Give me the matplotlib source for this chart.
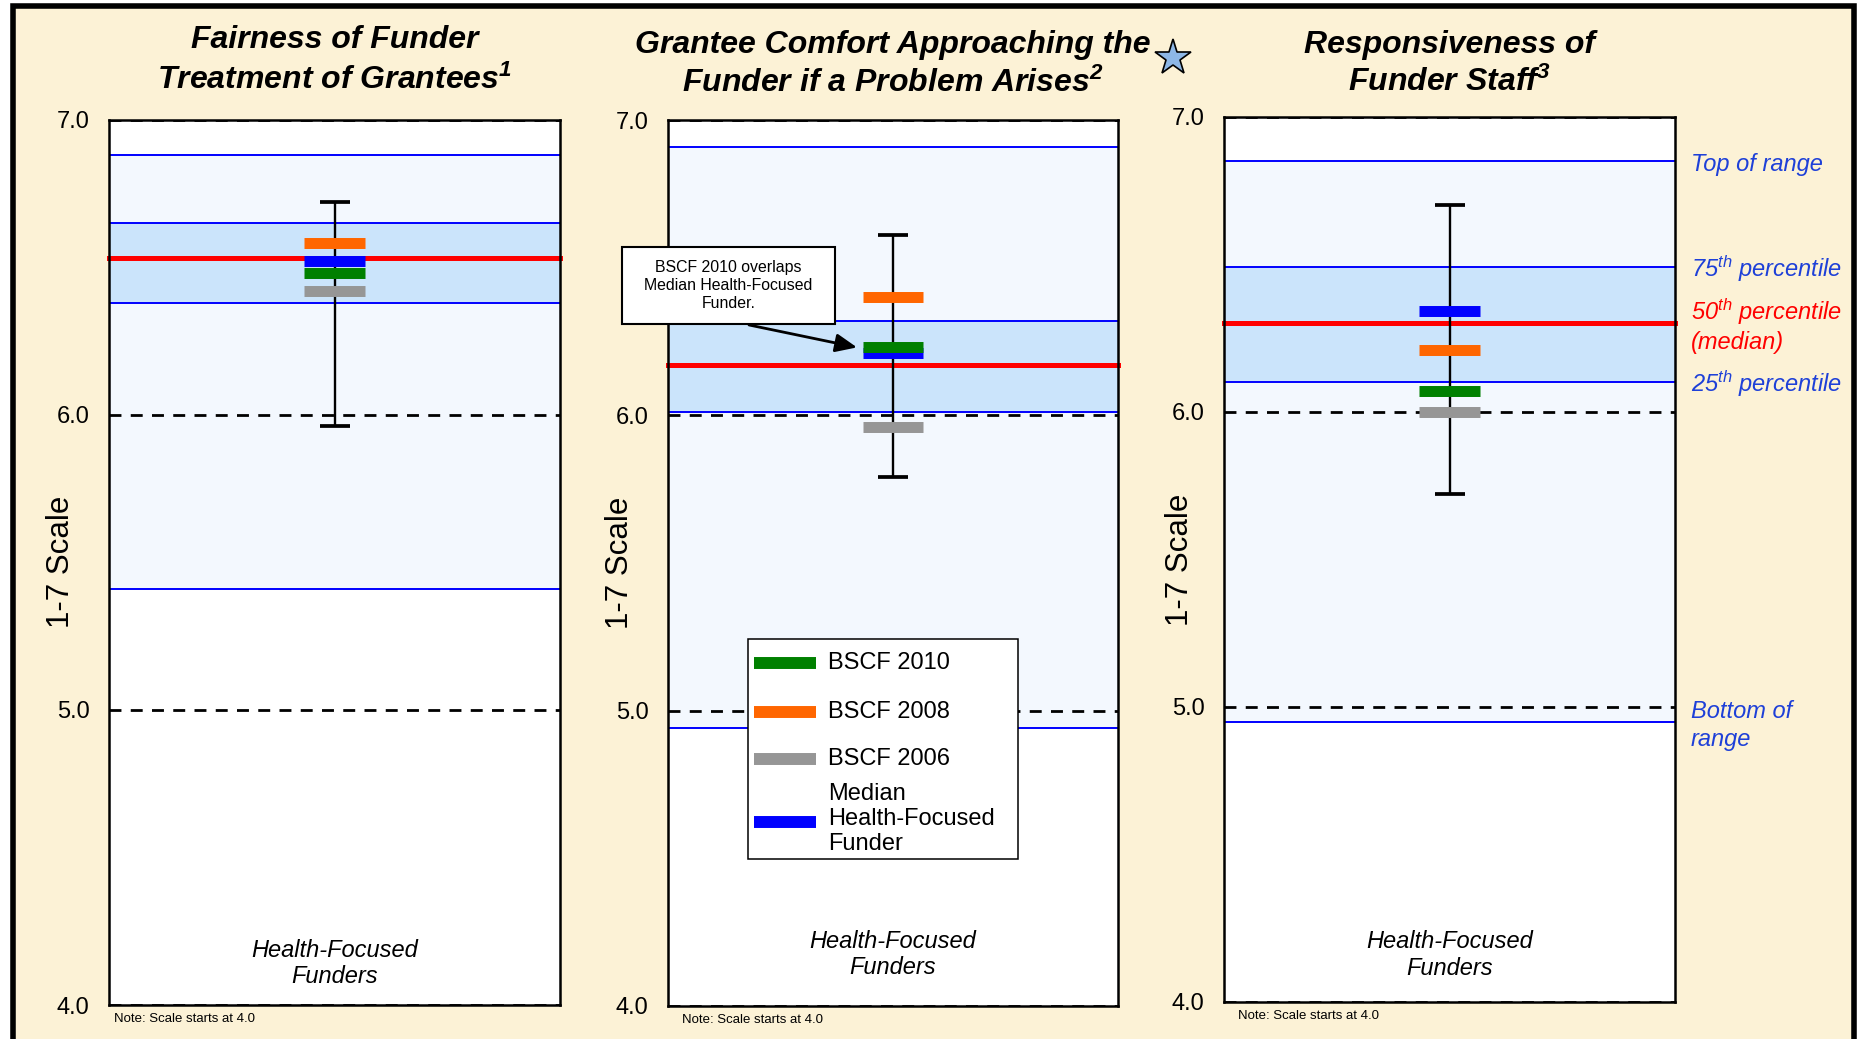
import matplotlib
matplotlib.use("Agg")
import matplotlib.pyplot as plt
import matplotlib.transforms as mtransforms
from matplotlib.lines import Line2D
from matplotlib.patches import Rectangle

plt.rcParams["font.family"] = ["Liberation Sans", "DejaVu Sans"]
plt.rcParams["mathtext.fontset"] = "custom"
plt.rcParams["mathtext.rm"] = "Liberation Sans"
plt.rcParams["mathtext.it"] = "Liberation Sans:italic"
plt.rcParams["mathtext.bf"] = "Liberation Sans:italic:bold"

# ---------------- data ----------------
title_line1 = ["Fairness of Funder", "Grantee Comfort Approaching the", "Responsiveness of"]
title_line2 = [r"Treatment of Grantees$^{\mathbf{1}}$",
               r"Funder if a Problem Arises$^{\mathbf{2}}$",
               r"Funder Staff$^{\mathbf{3}}$"]

y_ticks = [4.0, 5.0, 6.0, 7.0]
y_tick_labels = ["4.0", "5.0", "6.0", "7.0"]

# health-focused funder distribution per question
top_of_range = [6.88, 6.91, 6.85]
pct_75 = [6.65, 6.32, 6.49]
pct_50 = [6.53, 6.17, 6.30]
pct_25 = [6.38, 6.01, 6.10]
bottom_of_range = [5.41, 4.94, 4.95]

# whisker range shown around the markers
whisker_high = [6.72, 6.61, 6.70]
whisker_low = [5.96, 5.79, 5.72]

# ratings
bscf_2010 = [6.48, 6.23, 6.07]
bscf_2008 = [6.58, 6.40, 6.21]
bscf_2006 = [6.42, 5.96, 6.00]
median_hf = [6.52, 6.21, 6.34]

series_labels = ["BSCF 2010", "BSCF 2008", "BSCF 2006", "Median\nHealth-Focused\nFunder"]

# ---------------- style ----------------
CREAM = "#FCF2D6"
BAND_LIGHT = "#F3F8FE"
BAND_MID = "#CBE4FB"
LINE_BLUE = "#0000FF"
TEXT_BLUE = "#1E40D8"
RED = "#FF0000"
C2010 = "#008000"
C2008 = "#FF6600"
C2006 = "#969696"
CMED = "#0000FF"
series_colors = [C2010, C2008, C2006, CMED]
NARROW = ["Liberation Sans Narrow", "Liberation Sans", "DejaVu Sans"]

W, H = 1860, 1039
fig = plt.figure(figsize=(W / 100, H / 100), dpi=100, facecolor="white")

# slide frame
fig.add_artist(Rectangle((12.5 / W, -0.02), 1841 / W, 1.02 - 5.5 / H,
                         transform=fig.transFigure, facecolor=CREAM,
                         edgecolor="black", lw=4, zorder=-10))

# axes boxes in pixels: left, top, right, bottom
boxes = [(109, 119.5, 560, 1005), (668, 120, 1118, 1006), (1224, 116.7, 1675, 1002)]
title_baselines = [(48.3, 89.3), (53.3, 91.7), (52.7, 91.0)]
ylabel_x = [-0.106, -0.106, -0.098]
hf_text_y = [0.047, 0.058, 0.053]
note_x = [0.011, 0.031, 0.031]

half_w = 0.0675
axes = []
for i, (l, t, r, b) in enumerate(boxes):
    ax = fig.add_axes([l / W, 1 - b / H, (r - l) / W, (b - t) / H])
    axes.append(ax)
    ax.set_xlim(0, 1)
    ax.set_ylim(4, 7)
    ax.set_facecolor("white")

    ax.axhspan(bottom_of_range[i], top_of_range[i], color=BAND_LIGHT, lw=0, zorder=0.5)
    ax.axhspan(pct_25[i], pct_75[i], color=BAND_MID, lw=0, zorder=0.6)
    for arr in (top_of_range, pct_75, pct_25, bottom_of_range):
        ax.axhline(arr[i], color=LINE_BLUE, lw=1.4, zorder=1)
    for yt in y_ticks:
        ax.axhline(yt, color="black", lw=2, ls=(0, (4.3, 3.35)), zorder=1.5)
    ax.axhline(pct_50[i], color=RED, lw=3.6, zorder=2, clip_on=False,
               solid_capstyle="projecting")

    mid = (whisker_low[i] + whisker_high[i]) / 2
    ax.errorbar([0.5], [mid], yerr=[[mid - whisker_low[i]], [whisker_high[i] - mid]],
                fmt="none", ecolor="black", elinewidth=1.7, capsize=10.5,
                capthick=2.7, zorder=3)

    for vals, col in ((median_hf, CMED), (bscf_2006, C2006),
                      (bscf_2008, C2008), (bscf_2010, C2010)):
        ax.hlines(vals[i], 0.5 - half_w, 0.5 + half_w, colors=col, lw=7.9, zorder=4)

    ax.set_xticks([])
    ax.set_yticks(y_ticks)
    ax.set_yticklabels(y_tick_labels, fontsize=17)
    ax.tick_params(axis="y", length=0, pad=14)
    for s in ax.spines.values():
        s.set_linewidth(1.8)
        s.set_color("black")
        s.set_zorder(5)

    ax.text(ylabel_x[i], 0.5, "1-7 Scale", rotation=90, transform=ax.transAxes,
            ha="center", va="center", fontsize=22.5)
    ax.text(0.5, hf_text_y[i], "Health-Focused\nFunders", transform=ax.transAxes,
            ha="center", va="center", fontsize=17, style="italic", zorder=6)
    ax.text(note_x[i], -0.016, "Note: Scale starts at 4.0", transform=ax.transAxes,
            ha="left", va="center", fontsize=9.5, family=NARROW)

    trans = mtransforms.blended_transform_factory(ax.transAxes, fig.transFigure)
    ax.text(0.5, 1 - title_baselines[i][0] / H, title_line1[i], transform=trans,
            ha="center", va="baseline", fontsize=23, fontweight="bold", style="italic")
    ax.text(0.5, 1 - title_baselines[i][1] / H, title_line2[i], transform=trans,
            ha="center", va="baseline", fontsize=23, fontweight="bold", style="italic")

# key box in the middle panel (axes coordinates)
ax2 = axes[1]
ax2.add_patch(Rectangle((0.1778, 0.1659), 0.6, 0.2483, transform=ax2.transAxes,
                        facecolor="white", edgecolor="black", lw=1.1,
                        clip_on=False, zorder=8))
key_rows = [0.3871, 0.3318, 0.2788, 0.2077]
key_text_shift = [0.0, 0.0, 0.0, 0.0034]
for lab, col, yk, dy in zip(series_labels, series_colors, key_rows, key_text_shift):
    ax2.add_line(Line2D([0.1911, 0.3289], [yk, yk], transform=ax2.transAxes,
                        color=col, lw=8.6, solid_capstyle="butt",
                        clip_on=False, zorder=9))
    ax2.text(0.3556, yk + dy, lab, transform=ax2.transAxes, ha="left",
             va="center", fontsize=17, zorder=9)

# callout in the middle panel
ax2.add_patch(Rectangle((-0.102, 6.309), 0.472, 0.262, facecolor="white",
                        edgecolor="black", lw=1.5, clip_on=False, zorder=7))
ax2.text(0.134, 6.44, "BSCF 2010 overlaps\nMedian Health-Focused\nFunder.",
         ha="center", va="center", fontsize=11.4, family=NARROW,
         linespacing=1.25, zorder=8)
ax2.annotate("", xy=(0.42, bscf_2010[1]), xytext=(0.18, 6.306),
             arrowprops=dict(arrowstyle="-|>,head_length=0.65,head_width=0.28",
                             color="black", lw=2, shrinkA=0, shrinkB=0,
                             mutation_scale=20),
             annotation_clip=False, zorder=8)

# star next to the middle title
fig.add_artist(Line2D([1172.5 / W], [1 - 57.5 / H], marker="*", markersize=27,
                      markerfacecolor="#8DB7E6", markeredgecolor="black",
                      markeredgewidth=1.2, transform=fig.transFigure))

# percentile key on the right panel
ax3 = axes[2]


def key_transform(dy_px):
    return ax3.get_yaxis_transform() + mtransforms.ScaledTranslation(
        0, dy_px / 100, fig.dpi_scale_trans)


key_x = 1.035
key_kw = dict(style="italic", fontsize=17, va="center", ha="left", linespacing=1.25)
ax3.text(key_x, top_of_range[2], "Top of range", color=TEXT_BLUE,
         transform=key_transform(-4), **key_kw)
ax3.text(key_x, pct_75[2], r"75$^{\mathit{th}}$ percentile", color=TEXT_BLUE,
         transform=key_transform(-1.5), **key_kw)
ax3.text(key_x, pct_50[2], "50$^{\\mathit{th}}$ percentile\n(median)", color=RED,
         transform=key_transform(-2), **key_kw)
ax3.text(key_x, pct_25[2], r"25$^{\mathit{th}}$ percentile", color=TEXT_BLUE,
         transform=key_transform(-1.5), **key_kw)
ax3.text(key_x, bottom_of_range[2], "Bottom of\nrange", color=TEXT_BLUE,
         transform=key_transform(-4), **key_kw)

fig.savefig("out.png", dpi=100, facecolor="white")
